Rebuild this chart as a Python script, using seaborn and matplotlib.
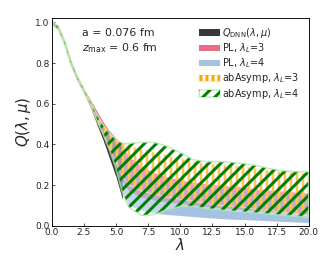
import numpy as np
import seaborn as sns
import matplotlib
matplotlib.use("Agg")
import matplotlib.pyplot as plt

sns.set_theme(style="ticks")
plt.rcParams['font.family'] = ['DejaVu Sans']
plt.rcParams['xtick.direction'] = 'in'
plt.rcParams['ytick.direction'] = 'in'

# lambda grid
lam = [0, 0.5, 1, 1.5, 2, 2.5, 3, 3.5, 4, 4.5, 5, 5.5,
       6, 7, 8, 9, 10, 11, 12, 13, 14, 15, 16, 17, 18, 19, 20]

# common narrow part (lambda 0..2.5)
head_lo = [0.992, 0.967, 0.892, 0.792, 0.717, 0.657]
head_hi = [1.006, 0.981, 0.906, 0.806, 0.731, 0.671]

# DNN band only up to lambda = 5.5
dnn_lo = head_lo + [0.585, 0.50, 0.42, 0.33, 0.24, 0.13]
dnn_hi = head_hi + [0.61, 0.545, 0.485, 0.44, 0.41, 0.39]

pl3_lo = head_lo + [0.59, 0.51, 0.44, 0.37, 0.30, 0.22,
                    0.17, 0.14, 0.125, 0.115, 0.11, 0.10, 0.095, 0.09, 0.085,
                    0.08, 0.075, 0.07, 0.065, 0.06, 0.055]
pl3_hi = head_hi + [0.62, 0.565, 0.51, 0.465, 0.43, 0.39,
                    0.34, 0.29, 0.26, 0.24, 0.225, 0.215, 0.205, 0.20, 0.195,
                    0.19, 0.18, 0.175, 0.17, 0.165, 0.16]

pl4_lo = head_lo + [0.59, 0.51, 0.44, 0.36, 0.27, 0.16,
                    0.10, 0.075, 0.062, 0.055, 0.05, 0.045, 0.04, 0.036, 0.032,
                    0.03, 0.027, 0.024, 0.021, 0.018, 0.016]
pl4_hi = head_hi + [0.605, 0.545, 0.49, 0.45, 0.41, 0.36,
                    0.31, 0.26, 0.23, 0.215, 0.205, 0.195, 0.19, 0.18, 0.175,
                    0.17, 0.165, 0.16, 0.155, 0.15, 0.145]

ab3_lo = head_lo + [0.595, 0.52, 0.45, 0.38, 0.31, 0.24,
                    0.20, 0.17, 0.155, 0.14, 0.13, 0.12, 0.11, 0.10, 0.095,
                    0.09, 0.08, 0.075, 0.065, 0.06, 0.05]
ab3_hi = head_hi + [0.61, 0.55, 0.495, 0.455, 0.425, 0.405,
                    0.395, 0.375, 0.36, 0.345, 0.33, 0.315, 0.305, 0.30, 0.295,
                    0.29, 0.28, 0.27, 0.265, 0.26, 0.255]

ab4_lo = head_lo + [0.595, 0.52, 0.45, 0.37, 0.28, 0.16,
                    0.09, 0.05, 0.055, 0.08, 0.095, 0.095, 0.085, 0.078, 0.072,
                    0.067, 0.062, 0.057, 0.052, 0.047, 0.042]
ab4_hi = head_hi + [0.61, 0.55, 0.495, 0.455, 0.425, 0.405,
                    0.405, 0.41, 0.41, 0.39, 0.36, 0.325, 0.315, 0.315, 0.312,
                    0.305, 0.295, 0.28, 0.27, 0.266, 0.265]

fig = plt.figure(figsize=(332 / 72, 266 / 72), dpi=72)
ax = fig.add_axes([0.156, 0.1515, 0.774, 0.7795])

n_dnn = len(dnn_lo)
h_dnn = ax.fill_between(lam[:n_dnn], dnn_lo, dnn_hi, color='#222222', alpha=0.9, lw=0)
h_pl3 = ax.fill_between(lam, pl3_lo, pl3_hi, color='#e0304f', alpha=0.7, lw=0)
h_pl4 = ax.fill_between(lam, pl4_lo, pl4_hi, color='#5b93c7', alpha=0.55, lw=0)

plt.rcParams['hatch.linewidth'] = 2.6
h_ab3 = ax.fill_between(lam, ab3_lo, ab3_hi, facecolor='none', edgecolor='orange',
                        hatch='||', lw=0)
h_ab3e = ax.fill_between(lam, ab3_lo, ab3_hi, facecolor='none',
                         edgecolor=(1.0, 0.85, 0.6, 0.6), lw=1.2)

plt.rcParams['hatch.linewidth'] = 3.0
h_ab4 = ax.fill_between(lam, ab4_lo, ab4_hi, facecolor='white', alpha=0.35, lw=0)
h_ab4h = ax.fill_between(lam, ab4_lo, ab4_hi, facecolor='none', edgecolor='green',
                         hatch='//', lw=0)
h_ab4e = ax.fill_between(lam, ab4_lo, ab4_hi, facecolor='none',
                         edgecolor=(0.7, 0.9, 0.7, 0.7), lw=1.6)

ax.set_xlim(0, 20)
ax.set_ylim(0, 1.02)
ax.set_xticks(np.arange(0, 20.1, 2.5))
ax.set_yticks([0.0, 0.2, 0.4, 0.6, 0.8, 1.0])
ax.tick_params(labelsize=9, length=3, width=0.8, pad=2)
for s in ax.spines.values():
    s.set_linewidth(0.9)
    s.set_color('black')

ax.set_xlabel(r'$\lambda$', fontsize=15, labelpad=0)
ax.set_ylabel(r'$Q(\lambda,\mu)$', fontsize=15, labelpad=2)

ax.text(0.118, 0.93, 'a = 0.076 fm', transform=ax.transAxes, fontsize=11, va='center')
ax.text(0.118, 0.857, r'$z_{\rm max}$ = 0.6 fm', transform=ax.transAxes, fontsize=11,
        va='center')

ax.legend([h_dnn, h_pl3, h_pl4, (h_ab3e, h_ab3), (h_ab4e, h_ab4h)],
          [r'$Q_{\rm DNN}(\lambda,\mu)$', r'PL, $\lambda_L$=3', r'PL, $\lambda_L$=4',
           r'abAsymp, $\lambda_L$=3', r'abAsymp, $\lambda_L$=4'],
          loc='upper right', bbox_to_anchor=(0.99, 0.995), frameon=False, fontsize=9.8,
          handlelength=2.2, handletextpad=0.2, labelspacing=0.12, borderaxespad=0.3)

fig.savefig('out.png', dpi=72)
